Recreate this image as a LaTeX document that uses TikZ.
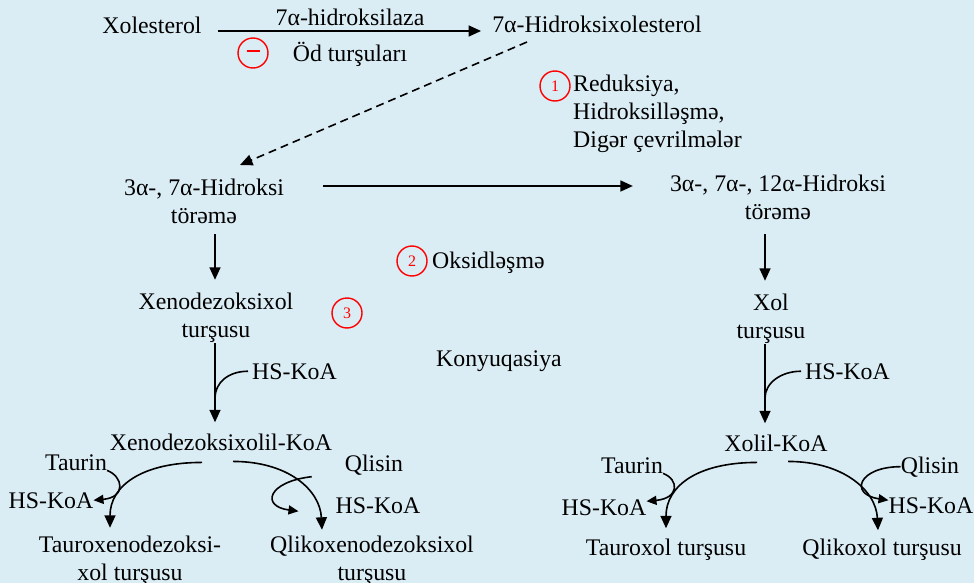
\documentclass[tikz,border=0pt]{standalone}
\usepackage{fontspec}
\setmainfont{Liberation Serif}
\usepackage{tikz}
\usetikzlibrary{arrows.meta}
\definecolor{bgblue}{RGB}{219,237,244}

\begin{document}
\begin{tikzpicture}[x=1pt,y=-1pt,>={Triangle[length=12.5pt,width=11pt]},
every node/.style={inner sep=0pt,font=\fontsize{23.8}{27.5}\selectfont},
txt/.style={anchor=base,align=center},
num/.style={circle,draw=red,line width=1.4pt,minimum size=30pt,text=red,font=\fontsize{16}{18}\selectfont},
arr/.style={->,line width=1.6pt},
small/.style={-{Triangle[length=10pt,width=9pt]},line width=1.6pt}]
\fill[bgblue](0,0)rectangle(974,583);
\useasboundingbox(0,0)rectangle(974,583);
% top row
\node[txt](xol)at(152,34){Xolesterol};
\node[txt](hxol)at(597,33){7α-Hidroksixolesterol};
\node[txt](enz)at(350,26){7α-hidroksilaza};
\node[txt](od)at(350,62){Öd turşuları};
\node[num](inh)at(253,53){};
\draw[red,line width=1.6pt]([shift={(-6.5,-2)}]inh.center)--([shift={(6.5,-2)}]inh.center);
\draw[arr]([shift={(16,-3)}]xol.base east)--([shift={(-11,-2)}]hxol.base west);
% steps
\node[num](n1)at(555,86){1};
\node[anchor=base west,align=left](stp)at(573,147){Reduksiya,\\Hidroksilləşmə,\\Digər çevrilmələr};
\node[txt](d37)at(204,223){3α-, 7α-Hidroksi\\törəmə};
\node[txt](d3712)at(778,219){3α-, 7α-, 12α-Hidroksi\\törəmə};
\draw[arr,dash pattern=on 8pt off 5pt]([shift={(-70,9)}]hxol.base)--([shift={(36,-58)}]d37.base);
\draw[arr]([shift={(39,-37)}]d37.base east)--([shift={(-37,-33)}]d3712.base west);
\node[num](n2)at(412,261){2};
\node[anchor=base west](oks)at(432,268){Oksidləşmə};
\node[num](n3)at(347,313){3};
\node[txt](xdx)at(216,337){Xenodezoksixol\\turşusu};
\node[txt](xolt)at(771,338){Xol\\turşusu};
\draw[arr]([shift={(11,11)}]d37.south)--([shift={(-1,-13)}]xdx.north);
\draw[arr]([shift={(-13,15)}]d3712.south)--([shift={(-6,-13)}]xolt.north);
\node[txt](kony)at(499,366){Konyuqasiya};
% HS-KoA
\node[txt](xdxk)at(221,450){Xenodezoksixolil-KoA};
\node[txt](xk)at(776,451){Xolil-KoA};
\node[anchor=base west](hs1)at(252,379){HS-KoA};
\node[anchor=base west](hs2)at(805,379){HS-KoA};
\coordinate(j1)at(215,398);
\coordinate(j2)at(765,398);
\draw[arr]([shift={(-1,1)}]xdx.south)--([shift={(-6,-11)}]xdxk.north);
\draw[arr]([shift={(-6,1)}]xolt.south)--([shift={(-11,-11)}]xk.north);
\draw[line width=1.6pt]([xshift=-4pt]hs1.west)..controls +(-20,0) and +(0,-15)..(j1);
\draw[line width=1.6pt]([xshift=-4pt]hs2.west)..controls +(-20,0) and +(0,-15)..(j2);
% left bottom
\node[txt](tau1)at(76,470){Taurin};
\node[txt](hs3)at(51,508){HS-KoA};
\node[txt](qli1)at(374,471){Qlisin};
\node[txt](hs4)at(378,513){HS-KoA};
\node[txt](txd)at(130,580){Tauroxenodezoksi-\\xol turşusu};
\node[txt](qxd)at(372,580){Qlikoxenodezoksixol\\turşusu};
\draw[arr]([shift={(-19,12)}]xdxk.south)..controls +(-60,0) and +(0,-42)..([shift={(-20,-8)}]txd.north);
\draw[arr]([shift={(12,11)}]xdxk.south)..controls +(55,0) and +(-2,-40)..([shift={(-50,-6)}]qxd.north);
\draw[small](tau1.south east)..controls +(16,6) and +(33,-3)..(hs3.east);
\draw[small]([shift={(-33,12)}]qli1.west)..controls +(-44,5) and +(-38,-5)..([shift={(-37,6)}]hs4.west);
% right bottom
\node[txt](tau2)at(632,473){Taurin};
\node[txt](hs5)at(604,515){HS-KoA};
\node[txt](qli2)at(930,473){Qlisin};
\node[txt](hs6)at(931,513){HS-KoA};
\node[txt](tx)at(666,555){Tauroxol turşusu};
\node[txt](qx)at(882,555){Qlikoxol turşusu};
\draw[arr]([shift={(-19,11)}]xk.south)..controls +(-60,0) and +(0,-42)..([shift={(0,-10)}]tx.north);
\draw[arr]([shift={(12,10)}]xk.south)..controls +(55,0) and +(-2,-40)..([shift={(-4,-8)}]qx.north);
\draw[small](tau2.south east)..controls +(16,6) and +(33,-3)..([shift={(0,-6)}]hs5.east);
\draw[small](qli2.west)..controls +(-42,0) and +(-40,-6)..([shift={(0,-5)}]hs6.west);
\end{tikzpicture}
\end{document}
